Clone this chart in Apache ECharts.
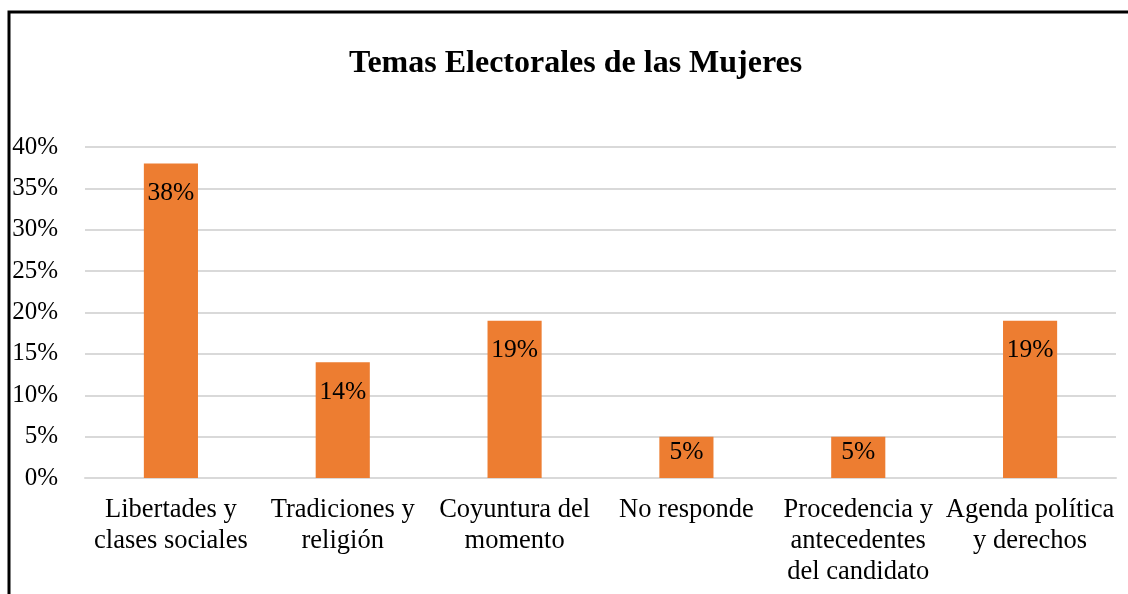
<!DOCTYPE html>
<html>
<head>
<meta charset="utf-8">
<script src="https://cdn.jsdelivr.net/npm/echarts@6/dist/echarts.min.js"></script>
<style>
  html, body { margin: 0; padding: 0; background: #fff; }
  #chart { width: 1128px; height: 594px; }
</style>
</head>
<body>
<div id="chart"></div>
<script>
// Temas electorales de las mujeres (share of responses, %)
const categories = [
  'Libertades y\nclases sociales',
  'Tradiciones y\nreligión',
  'Coyuntura del\nmomento',
  'No responde',
  'Procedencia y\nantecedentes\ndel candidato',
  'Agenda política\ny derechos'
];
const values = [38, 14, 19, 5, 5, 19];
const yTicks = { min: 0, max: 40, step: 5 };

const FONT = '"Liberation Serif", "Times New Roman", serif';

const chart = echarts.init(document.getElementById('chart'), null, { renderer: 'canvas' });

chart.setOption({
  animation: false,
  backgroundColor: '#ffffff',
  title: {
    text: 'Temas Electorales de las Mujeres',
    left: 344,
    top: 43,
    textStyle: { fontFamily: FONT, fontSize: 32, fontWeight: 'bold', color: '#000' }
  },
  graphic: [{
    type: 'polyline',
    shape: { points: [[9, 594], [9, 12], [1128, 12]] },
    style: { stroke: '#000', lineWidth: 3, fill: null }
  }],
  grid: { left: 85, right: 12, top: 147, bottom: 116 },
  xAxis: {
    type: 'category',
    data: categories,
    axisLine: { show: true, lineStyle: { color: '#d9d9d9', width: 2 } },
    axisTick: { show: false },
    axisLabel: {
      interval: 0,
      margin: 17,
      fontFamily: FONT,
      fontSize: 26.5,
      lineHeight: 31,
      color: '#000'
    }
  },
  yAxis: {
    type: 'value',
    min: yTicks.min,
    max: yTicks.max,
    interval: yTicks.step,
    axisLine: { show: false },
    axisTick: { show: false },
    splitLine: { lineStyle: { color: '#d9d9d9', width: 2 } },
    axisLabel: {
      margin: 27,
      fontFamily: FONT,
      fontSize: 25,
      color: '#000',
      formatter: v => v + '%'
    }
  },
  series: [{
    type: 'bar',
    barWidth: '31.5%',
    data: values.map(v => ({
      value: v,
      label: { distance: v < 8 ? 3 : 17 }
    })),
    itemStyle: { color: '#ED7D31' },
    label: {
      show: true,
      position: 'insideTop',
      fontFamily: FONT,
      fontSize: 25.5,
      color: '#000',
      formatter: p => p.value + '%'
    }
  }]
});
</script>
</body>
</html>
